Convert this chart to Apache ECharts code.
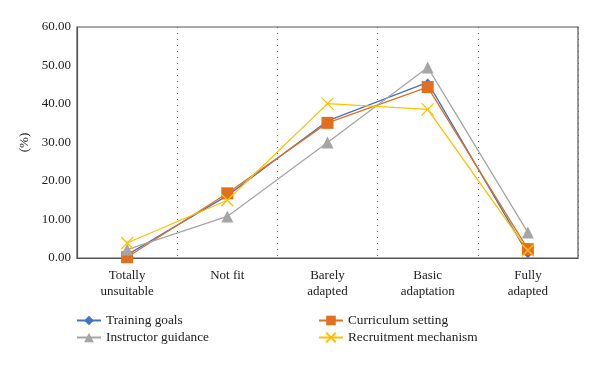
<!DOCTYPE html>
<html><head><meta charset="utf-8">
<script src="https://cdn.jsdelivr.net/npm/echarts@6/dist/echarts.min.js"></script>
<style>html,body{margin:0;padding:0;background:#fff}#c{width:600px;height:367px}</style>
</head><body><div id="c"></div>
<script>
var categories = ['Totally\nunsuitable', 'Not fit', 'Barely\nadapted', 'Basic\nadaptation', 'Fully\nadapted'];
var yTicks = [0, 10, 20, 30, 40, 50, 60];
var trainingGoals = [0.8, 16.2, 35.6, 45.6, 1.0];
var curriculumSetting = [0.2, 16.8, 35.1, 44.4, 2.3];
var instructorGuidance = [2.2, 10.8, 30.0, 49.5, 6.6];
var recruitmentMechanism = [3.9, 15.0, 40.1, 38.6, 2.0];

var FONT = 'Liberation Serif';
var chart = echarts.init(document.getElementById('c'));
function ser(name, data, color, symbol, size, extra) {
  var s = {
    name: name, type: 'line', data: data, symbol: symbol, symbolSize: size,
    lineStyle: {color: color, width: 1.3},
    itemStyle: {color: color},
    emphasis: {disabled: true}
  };
  if (extra) for (var k in extra) s[k] = extra[k];
  return s;
}
var legendCommon = {orient: 'vertical', padding: 0, itemGap: 4, itemWidth: 24, itemHeight: 12,
  textStyle: {fontSize: 13.3, color: '#222', fontFamily: FONT}};
chart.setOption({
  animation: false,
  textStyle: {fontFamily: FONT},
  grid: {left: 77, right: 22, top: 27, bottom: 109, show: true, borderColor: '#555', borderWidth: 1.2, containLabel: false},
  xAxis: {
    type: 'category', data: categories, boundaryGap: true,
    axisLine: {lineStyle: {color: '#555', width: 1.2}},
    axisTick: {show: false},
    axisLabel: {color: '#222', fontSize: 13, fontFamily: FONT, margin: 10, lineHeight: 16},
    splitLine: {show: true, lineStyle: {color: '#666', type: [1, 5], width: 1}}
  },
  yAxis: {
    type: 'value', min: yTicks[0], max: yTicks[yTicks.length - 1], interval: 10,
    name: '(%)', nameLocation: 'middle', nameGap: 46, nameRotate: 90,
    nameTextStyle: {color: '#222', fontSize: 13, fontFamily: FONT},
    axisLine: {show: true, lineStyle: {color: '#555', width: 1.2}},
    axisTick: {show: false},
    splitLine: {show: false},
    axisLabel: {color: '#222', fontSize: 13, fontFamily: FONT, margin: 6, formatter: function (v) { return v.toFixed(2); }}
  },
  legend: [
    Object.assign({left: 76, top: 314, data: ['Training goals', 'Instructor guidance']}, legendCommon),
    Object.assign({left: 318, top: 314, data: ['Curriculum setting', 'Recruitment mechanism']}, legendCommon)
  ],
  series: [
    ser('Training goals', trainingGoals, '#4472C4', 'diamond', 8),
    ser('Curriculum setting', curriculumSetting, '#E0701F', 'rect', 12),
    ser('Instructor guidance', instructorGuidance, '#A5A5A5', 'triangle', 12),
    ser('Recruitment mechanism', recruitmentMechanism, '#FFC000', 'path://M0,0L10,10M10,0L0,10', 12,
      {itemStyle: {color: 'rgba(0,0,0,0)', borderColor: '#FFC000', borderWidth: 1.3}})
  ]
});
</script></body></html>
